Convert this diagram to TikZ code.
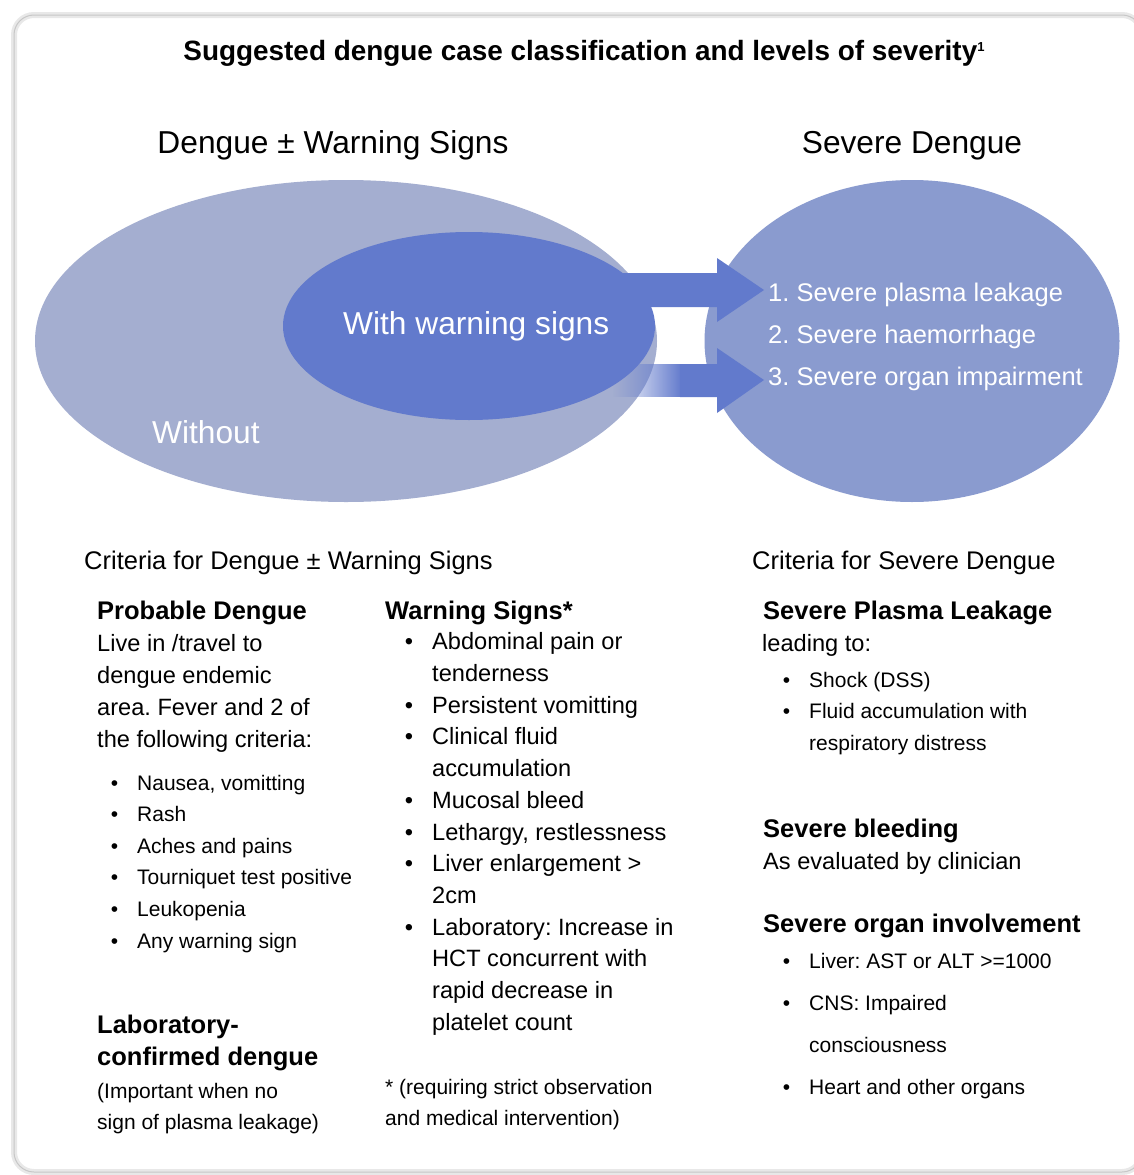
\documentclass[tikz,border=0pt]{standalone}
\usepackage{fontspec}
\setmainfont{Liberation Sans}
\usetikzlibrary{shapes.geometric,fadings}

\definecolor{outerblue}{HTML}{A4AED0}
\definecolor{innerblue}{HTML}{627ACC}
\definecolor{severeblue}{HTML}{8A9BCF}
\tikzfading[name=fadein, left color=transparent!100, right color=transparent!0]
\newcommand{\bul}{\llap{\textbullet\hspace{19pt}}}
\frenchspacing

\begin{document}
\begin{tikzpicture}[x=1pt, y=-1pt,
    txt/.style={anchor=base west, inner sep=0pt, font=\fontsize{23.6}{28}\selectfont},
    hd/.style={txt, font=\bfseries\fontsize{25.5}{30}\selectfont},
    crit/.style={txt, font=\fontsize{25.5}{30}\selectfont},
    sm/.style={txt, font=\fontsize{21}{26}\selectfont},
    big/.style={anchor=base, inner sep=0pt, font=\fontsize{31.7}{36}\selectfont},
    blob/.style={ellipse, inner sep=0pt, draw=none},
    inside/.style={txt, text=white}]
    \useasboundingbox[fill=white] (0,0) rectangle (1133,1175);
    % card
    \draw[black!9, line width=6pt, rounded corners=20pt] (14,15) rectangle (1142,1172);
    \draw[black!22, line width=1pt, rounded corners=20pt] (14,15) rectangle (1142,1172);
    \node[anchor=base, inner sep=0pt, font=\bfseries\fontsize{27.9}{32}\selectfont] (title)
        at (584,60) {Suggested dengue case classification and levels of severity\raisebox{9pt}{\fontsize{13}{13}\selectfont 1}};
    \node[big] (hdr-l) at (333,153) {Dengue ± Warning Signs};
    \node[big] (hdr-r) at (912,153) {Severe Dengue};
    % ellipses
    \node[blob, fill=outerblue, minimum width=622pt, minimum height=322pt] (without) at (346,341) {};
    \node[blob, fill=innerblue, minimum width=372pt, minimum height=188pt] (with) at (469,326) {};
    \node[blob, fill=severeblue, minimum width=415pt, minimum height=322pt] (severe) at (912,341) {};
    \node[inside, font=\fontsize{31.7}{36}\selectfont] (without-l) at (152,443) {Without};
    \node[inside, font=\fontsize{31.7}{36}\selectfont] (with-l) at (343,334) {With warning signs};
    % arrows
    \fill[innerblue] (560,273) -- (717,273) -- (717,258) -- (764,290) -- (717,322) -- (717,307) -- (560,307) -- cycle;
    \fill[innerblue, path fading=fadein] (612,364) rectangle (682,397);
    \fill[innerblue] (680,364) -- (717,364) -- (717,348) -- (764,380) -- (717,413) -- (717,397) -- (680,397) -- cycle;
    \foreach \l [count=\i] in {1. Severe plasma leakage, 2. Severe haemorrhage, 3. Severe organ impairment}
        \node[inside, font=\fontsize{25.5}{30}\selectfont] (sev-\i) at (768,{259+42*\i}) {\l};
    % criteria
    \node[crit] (crit-l) at (84,569) {Criteria for Dengue ± Warning Signs};
    \node[crit] (crit-r) at (752,569) {Criteria for Severe Dengue};
    % probable dengue
    \node[hd] (pd) at (97,619) {Probable Dengue};
    \foreach \l [count=\i] in {Live in /travel to, dengue endemic, area. Fever and 2 of, the following criteria:}
        \node[txt] (pd-\i) at (97,{619+32*\i}) {\l};
    \foreach \l [count=\i] in {{Nausea, vomitting}, Rash, Aches and pains, Tourniquet test positive, Leukopenia, Any warning sign}
        \node[sm] (pd-b\i) at (137,{758.4+31.6*\i}) {\bul\l};
    \node[hd] (lab) at (97,1033) {Laboratory-};
    \node[hd] (lab-2) at (97,1065) {confirmed dengue};
    \node[sm] (lab-3) at (97,1098) {(Important when no};
    \node[sm] (lab-4) at (97,1129) {sign of plasma leakage)};
    % warning signs
    \node[hd] (ws) at (385,619) {Warning Signs*};
    \foreach \l [count=\i] in {\bul Abdominal pain or, tenderness, \bul Persistent vomitting, \bul Clinical fluid,
        accumulation, \bul Mucosal bleed, {\bul Lethargy, restlessness}, \bul Liver enlargement >, 2cm,
        \bul Laboratory: Increase in, HCT concurrent with, rapid decrease in, platelet count}
        \node[txt] (ws-\i) at (432,{618.3+31.67*\i}) {\l};
    \node[sm] (ws-n1) at (385,1094) {* (requiring strict observation};
    \node[sm] (ws-n2) at (385,1125) {and medical intervention)};
    % severe dengue
    \node[hd] (spl) at (763,619) {Severe Plasma Leakage};
    \node[txt] (spl-1) at (762,651) {leading to:};
    \node[sm] (spl-b1) at (809,687) {\bul Shock (DSS)};
    \node[sm] (spl-b2) at (809,718) {\bul Fluid accumulation with};
    \node[sm] (spl-b3) at (809,750) {respiratory distress};
    \node[hd] (sb) at (763,837) {Severe bleeding};
    \node[txt] (sb-1) at (763,869) {As evaluated by clinician};
    \node[hd] (soi) at (763,932) {Severe organ involvement};
    \foreach \l [count=\i] in {\bul Liver: AST or ALT >=1000, \bul CNS: Impaired, consciousness, \bul Heart and other organs}
        \node[sm] (soi-\i) at (809,{926+42*\i}) {\l};
\end{tikzpicture}
\end{document}
